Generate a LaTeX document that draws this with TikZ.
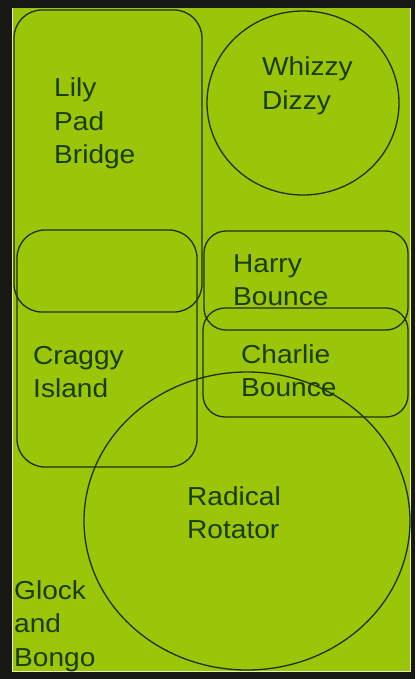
\documentclass[tikz,border=0pt]{standalone}
\usepackage{fontspec}
\setmainfont[FakeStretch=1.08]{Liberation Sans}
\definecolor{bggreen}{RGB}{154,197,8}
\definecolor{txtgreen}{RGB}{26,60,0}
\definecolor{linegreen}{RGB}{30,48,8}
\definecolor{frame}{RGB}{22,24,20}
\tikzset{
  zone/.style={draw=linegreen, line width=1.3pt},
  lbl/.style={anchor=base west, inner sep=0pt, text=txtgreen,
    font=\fontsize{26}{33.5}\selectfont}
}
\newcommand{\lines}[1]{\vtop{\halign{##\hfil\cr#1\crcr}}}
\begin{document}
\begin{tikzpicture}[x=1pt,y=-1pt]
  \useasboundingbox (0,0) rectangle (415,679);
  \fill[frame] (0,0) rectangle (415,679);
  \fill[bggreen] (12,8) rectangle (410,671);
  \draw[white!70!bggreen, line width=0.8pt] (12,8) -- (12,671) -- (410,671) -- (410,8);
  % zones
  \draw[zone, rounded corners=28pt] (14,10) rectangle (202,312);
  \draw[zone, rounded corners=28pt] (17,230) rectangle (197,467);
  \draw[zone] (303,103) ellipse [x radius=96, y radius=92];
  \draw[zone, rounded corners=22pt] (204,231) rectangle (408,330);
  \draw[zone, rounded corners=22pt] (203,308) rectangle (408,417);
  \draw[zone] (247,521) ellipse [x radius=163, y radius=149];
  % labels
  \node[lbl] (lily) at (54,97) {\lines{Lily\cr Pad\cr Bridge}};
  \node[lbl] (whizzy) at (262,76) {\lines{Whizzy\cr Dizzy}};
  \node[lbl] (harry) at (233,272) {\lines{Harry\cr Bounce}};
  \node[lbl] (charlie) at (241,363) {\lines{Charlie\cr Bounce}};
  \node[lbl] (craggy) at (33,364) {\lines{Craggy\cr Island}};
  \node[lbl] (radical) at (187,505) {\lines{Radical\cr Rotator}};
  \node[lbl] (glock) at (14,599) {\lines{Glock\cr and\cr Bongo}};
\end{tikzpicture}
\end{document}
